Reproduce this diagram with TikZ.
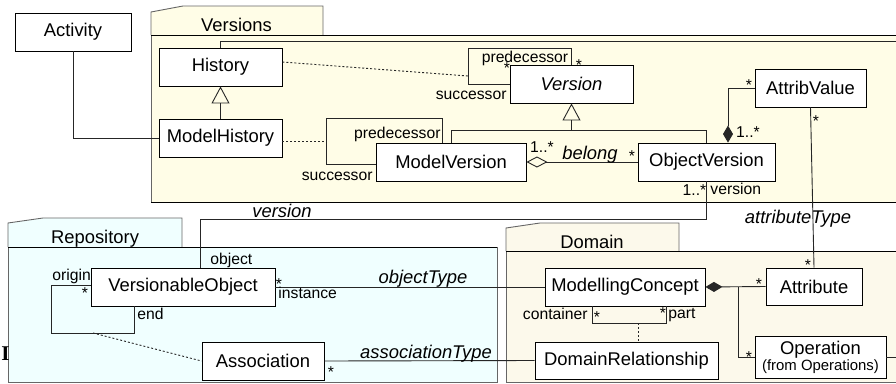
\documentclass[tikz,border=0pt]{standalone}
\usepackage{fontspec}
\setmainfont{Liberation Sans}
\newfontfamily\serifface{Liberation Serif}
\usetikzlibrary{arrows.meta,positioning,calc}
\newcommand{\clsfont}{\fontsize{18.4}{21}\selectfont}
\newcommand{\rolefont}{\fontsize{15.7}{18}\selectfont}
\newcommand{\notefont}{\fontsize{14.9}{17}\selectfont}
\definecolor{verfill}{RGB}{255,253,231}
\definecolor{domfill}{RGB}{252,249,235}
\definecolor{repfill}{RGB}{240,255,255}
\tikzstyle{cls} = [draw, rectangle, fill=white, inner sep=0pt, minimum height=38pt, font=\clsfont]
\tikzstyle{role} = [inner sep=0pt, anchor=base, font=\rolefont]
\tikzstyle{aname} = [inner sep=0pt, anchor=base, font=\clsfont\itshape]
\tikzstyle{pkname} = [inner sep=0pt, anchor=base, font=\clsfont]
\tikzstyle{line} = [draw, black!85]
\tikzstyle{dep} = [draw, black!85, dash pattern=on 2pt off 2pt]
\tikzstyle{pkg} = [draw=black!60]
\tikzstyle{gen} = [line, -{Triangle[open,length=17pt,width=18pt]}]
\tikzstyle{agg} = [line, {Diamond[open,length=21pt,width=11pt]}-]
\tikzstyle{comp} = [line, {Diamond[length=17pt,width=10pt]}-]

\begin{document}
\begin{tikzpicture}[x=1pt, y=-1pt, line width=0.9pt]
	\useasboundingbox (0,0) rectangle (896,383);
	% packages
	\fill[verfill] (151,12) -- (183,6) -- (323,6) -- (323,35) -- (151,35) -- cycle;
	\fill[verfill] (151,35) rectangle (897,202);
	\draw[pkg] (151,35) -- (151,12) -- (183,6) -- (323,6) -- (323,35);
	\draw[pkg] (151,35) -- (151,202);
	\draw (151,35) -- (897,35);
	\draw (151,202) -- (897,202);
	\fill[repfill] (8,223) -- (43,218) -- (182,218) -- (182,247) -- (8,247) -- cycle;
	\fill[repfill] (8,247) rectangle (497,382);
	\draw[pkg] (8,247) -- (8,223) -- (43,218) -- (182,218) -- (182,247);
	\draw[pkg] (8,247) |- (497,382) -- (497,247);
	\draw (8,247) -- (497,247);
	\fill[domfill] (506,228) -- (540,223) -- (679,223) -- (679,251) -- (506,251) -- cycle;
	\fill[domfill] (506,251) rectangle (897,382);
	\draw[pkg] (506,251) -- (506,228) -- (540,223) -- (679,223) -- (679,251);
	\draw[pkg] (506,251) |- (897,382);
	\draw (506,251) -- (897,251);
	\node[pkname] (lversions) at (236.5,31) {Versions};
	\node[pkname] (lrepo) at (95,243) {Repository};
	\node[pkname] (ldomain) at (592,248) {Domain};
	\node[inner sep=0pt, anchor=base, font={\serifface\bfseries\fontsize{21}{24}\selectfont}] (lI) at (5.5,360) {I};

	% classes
	\node[cls, minimum width=116pt] (act) at (73,32) {Activity};
	\node[cls, minimum width=123pt] (hist) at (220.5,67) {History};
	\node[cls, below of=hist, node distance=71pt, minimum width=123pt] (mhist) {ModelHistory};
	\node[cls, minimum width=123pt, font=\clsfont\itshape] (ver) at (571.5,84) {Version};
	\node[cls, minimum width=150pt] (mver) at (451,162) {ModelVersion};
	\node[cls, minimum width=137pt] (objv) at (706.5,162) {ObjectVersion};
	\node[cls, minimum width=111pt] (attv) at (810.5,88) {AttribValue};
	\node[cls, minimum width=184pt] (vobj) at (183,287) {VersionableObject};
	\node[cls, minimum width=122pt] (assoc) at (263,361) {Association};
	\node[cls, minimum width=160pt] (mcon) at (625,287) {ModellingConcept};
	\node[cls, minimum width=183pt, minimum height=37pt] (drel) at (626.5,360.5) {DomainRelationship};
	\node[cls, minimum width=96pt, minimum height=37pt] (attr) at (814,286.5) {Attribute};
	\node[cls, minimum width=131pt, minimum height=42pt, align=center] (oper) at (820.5,357) {Operation\\[-5pt]{\notefont (from Operations)}};

	% bend points
	\coordinate (histx) at (897,41);
	\coordinate (vloop) at (468,48);
	\coordinate (vdash) at (468,76);
	\coordinate (mvloop) at (326,118);
	\coordinate (mhdash) at ([yshift=-3pt]mhist.east);
	\coordinate (genbar) at (571.5,130);
	\coordinate (verbend) at (200,219);
	\coordinate (voloop) at (51,333);
	\coordinate (vodash) at (93,333);
	\coordinate (mcloop) at (592,323);
	\coordinate (mcdash) at (638,323);
	\coordinate (mcj) at (738,287);
	\coordinate (operx) at (897,357);

	% connectors
	\path[line] (act.south) |- (mhist.west);
	\path[gen] (mhist.north) -- (hist.south);
	\path[line] (hist.north) |- (histx);
	\path[dep] ([yshift=5pt]hist.east) -- (vdash);
	\path[line] (ver.west) -| (vloop) -| (ver.north);
	\path[dep] (mhdash) -- (mhdash -| mvloop);
	\path[line] ([yshift=-2pt]mver.west) -| (mvloop) -| ([xshift=-9pt]mver.north);
	\path[gen] (mver.north) |- (genbar) -- (ver.south);
	\path[line] (objv.north) |- (genbar);
	\path[agg] (mver.east) -- (objv.west);
	\path[comp] ([xshift=21.5pt]objv.north) |- (attv.west);
	\path[line] (attv.south) -- (attr.north);
	\path[line] (objv.south) -- (objv.south |- verbend) -- (verbend) -- (verbend |- vobj.north);
	\path[line] ([yshift=2pt]vobj.west) -| (voloop) -| ([xshift=-49pt]vobj.south);
	\path[dep] (vodash) -- (assoc.west);
	\path[line] (vobj.east) -- (mcon.west);
	\path[line] (assoc.east) -- (drel.west);
	\path[line] ([xshift=-33pt]mcon.south) -- (mcloop) -| ([xshift=41pt]mcon.south);
	\path[dep] (mcdash) -- (mcdash |- drel.north);
	\path[comp] (mcon.east) -- (attr.west);
	\path[line] (mcj) |- (oper.west);
	\path[line] (oper.east) -- (operx);

	% roles and names
	\node[role] (pred1) at (525,62) {predecessor};
	\node[role, anchor=base east] (succ1) at (507,99) {successor};
	\node[role] (vs1) at (507,73) {*};
	\node[role] (vs2) at (579,70) {*};
	\node[role, anchor=base east] (pred2) at (441,138) {predecessor};
	\node[role, anchor=base east] (succ2) at (373,180) {successor};
	\node[role] (mvm) at (542,152) {1..*};
	\node[aname] (lbelong) at (590,159) {belong};
	\node[role] (ovm1) at (632,161) {*};
	\node[role] (avm1) at (749,90) {*};
	\node[role] (ovm2) at (748,137) {1..*};
	\node[role] (avm2) at (816,126) {*};
	\node[role] (ovm3) at (694.5,195) {1..*};
	\node[role, anchor=base west] (lvrole) at (710,194) {version};
	\node[aname] (lversion) at (282,217) {version};
	\node[aname] (lattr) at (798,223) {attributeType};
	\node[role, anchor=base west] (lobject) at (210,264) {object};
	\node[role, anchor=base west] (lorigin) at (52,280) {origin};
	\node[role] (vom1) at (85,298) {*};
	\node[role, anchor=base west] (lend) at (137,319) {end};
	\node[role] (vom2) at (279,289) {*};
	\node[role, anchor=base west] (linst) at (278,298) {instance};
	\node[aname] (lobjtype) at (423,283) {objectType};
	\node[aname] (lassoctype) at (426,358) {associationType};
	\node[role] (asm1) at (331,377) {*};
	\node[role, anchor=base east] (lcont) at (588,319) {container};
	\node[role] (mcm1) at (597,322) {*};
	\node[role] (mcm2) at (663,318) {*};
	\node[role, anchor=base west] (lpart) at (668,318) {part};
	\node[role] (atm1) at (759,289) {*};
	\node[role] (opm1) at (749,362) {*};
	\node[role] (atm2) at (808,270) {*};
\end{tikzpicture}
\end{document}
